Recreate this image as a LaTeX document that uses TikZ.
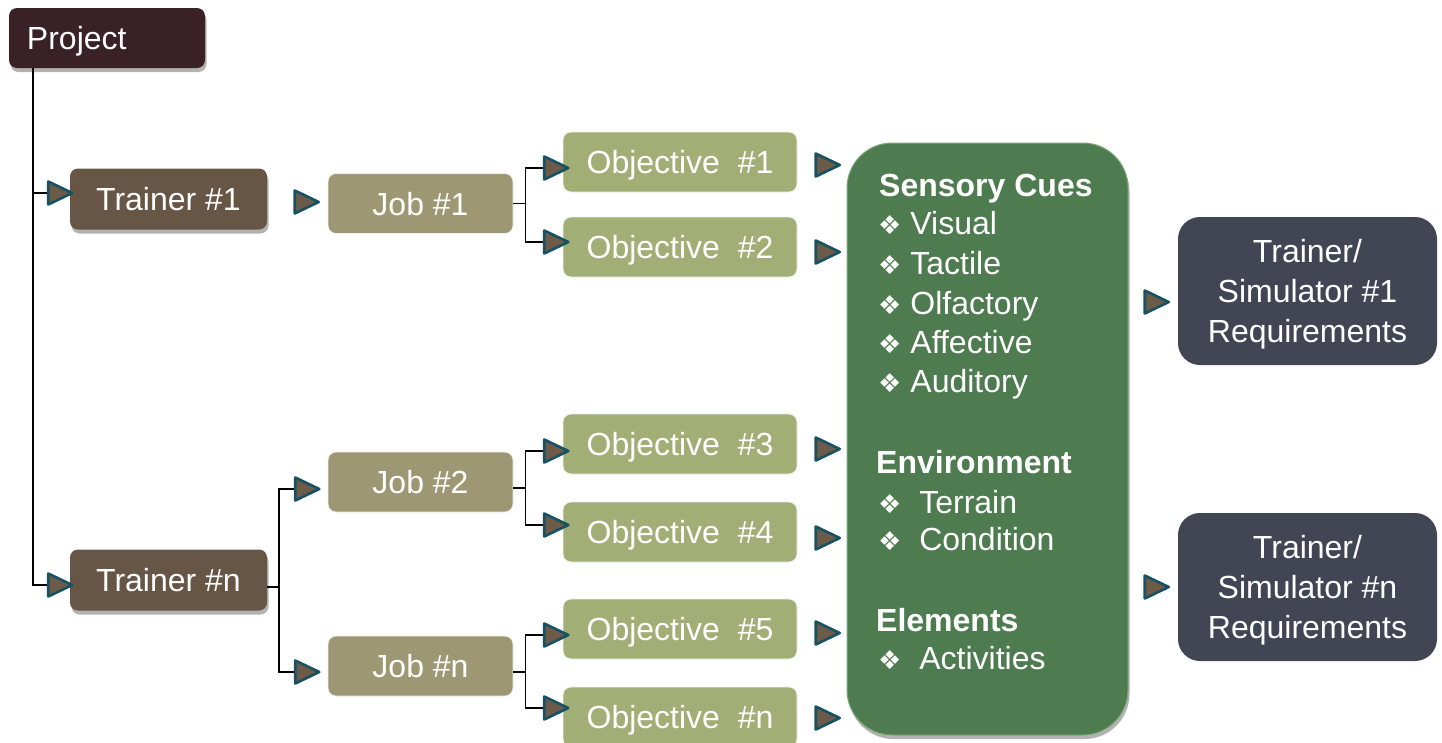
\documentclass[tikz,border=0pt]{standalone}
\usepackage{fontspec}
\setmainfont{Liberation Sans}
\newfontfamily\dejavu{DejaVu Sans}
\usetikzlibrary{shapes.geometric,shadows}
\definecolor{projc}{HTML}{3A2125}
\definecolor{trainc}{HTML}{675645}
\definecolor{jobc}{HTML}{9E9773}
\definecolor{objc}{HTML}{A1AF76}
\definecolor{greenc}{HTML}{4E7B50}
\definecolor{greenl}{HTML}{7FA97D}
\definecolor{simc}{HTML}{414554}
\definecolor{trif}{HTML}{6B5B48}
\definecolor{tric}{HTML}{165264}
\newcommand{\bul}{{\dejavu\fontsize{26}{26}\selectfont ❖}}
\begin{document}
\begin{tikzpicture}[x=1pt,y=-1pt,
  box/.style={rounded corners=8pt, inner sep=0pt, text=white,
    font=\fontsize{32}{40}\selectfont, text height=23pt, text depth=0pt},
  shad/.style={drop shadow={shadow xshift=1.5pt, shadow yshift=-4pt, opacity=0.3, fill=black}},
  projbox/.style={box, fill=projc, shad, minimum height=60pt, text width=160pt, align=left, inner xsep=18pt},
  trainbox/.style={box, fill=trainc, shad, minimum width=197pt, minimum height=61pt},
  jobbox/.style={box, fill=jobc, draw=white!85!jobc, line width=0.8pt, minimum width=185pt, minimum height=60pt},
  objbox/.style={box, fill=objc, draw=white!85!objc, line width=0.8pt, minimum width=234pt, minimum height=60pt},
  simbox/.style={rounded corners=22pt, inner sep=0pt, text=white, fill=simc,
    font=\fontsize{32}{40}\selectfont, text depth=0pt, align=center,
    minimum width=259pt, minimum height=148pt},
  tri/.style={isosceles triangle, isosceles triangle stretches, shape border rotate=0,
    inner sep=0pt, minimum width=23pt, minimum height=24pt,
    fill=trif, draw=tric, line width=2.6pt, line join=round},
  conn/.style={black, line width=1.5pt},
  cue/.style={anchor=west, inner sep=0pt, text=white,
    font=\fontsize{32}{40}\selectfont, text height=23pt, text depth=0pt},
  head/.style={cue, font=\fontsize{32}{40}\selectfont\bfseries}]

\useasboundingbox (0,0) rectangle (1442,742);
\clip (0,0) rectangle (1442,742);

% boxes
\node[projbox] (proj) at (107,38) {Project};
\node[trainbox] (tr1) at (168.5,199) {Trainer \#1};
\node[trainbox] (trn) at (168.5,580) {Trainer \#n};

\node[jobbox] (job1) at (420.5,203.5) {Job \#1};
\node[jobbox] (job2) at (420.5,482) {Job \#2};
\node[jobbox] (jobn) at (420.5,666) {Job \#n};

\node[objbox] (ob1) at (680,162) {Objective\ \ \#1};
\node[objbox] (ob2) at (680,247) {Objective\ \ \#2};
\node[objbox] (ob3) at (680,444) {Objective\ \ \#3};
\node[objbox] (ob4) at (680,532) {Objective\ \ \#4};
\node[objbox] (ob5) at (680,629) {Objective\ \ \#5};
\node[objbox] (obn) at (680,717) {Objective\ \ \#n};

\node[rounded corners=45pt, minimum width=281pt, minimum height=592pt,
  fill=greenc, draw=greenl, line width=1pt, shad] (green) at (987.5,439) {};

\node[simbox] (sim1) at (1307.5,291) {Trainer/\\Simulator \#1\\Requirements};
\node[simbox] (simn) at (1307.5,587) {Trainer/\\Simulator \#n\\Requirements};

% texts in the green box
\node[head] (h1) at (879,185) {Sensory Cues};
\node[cue] (c1) at (878,223) {\bul\ Visual};
\node[cue] (c2) at (878,263) {\bul\ Tactile};
\node[cue] (c3) at (878,303) {\bul\ Olfactory};
\node[cue] (c4) at (878,342) {\bul\ Affective};
\node[cue] (c5) at (878,381) {\bul\ Auditory};
\node[head] (h2) at (876,462) {Environment};
\node[cue] (e1) at (878,502) {\bul\ \ Terrain};
\node[cue] (e2) at (878,539) {\bul\ \ Condition};
\node[head] (h3) at (876,620) {Elements};
\node[cue] (l1) at (878,658) {\bul\ \ Activities};

% triangle markers
\node[tri] (t1tri) at (55.5,193) {};
\node[tri] (tntri) at (55.5,585) {};
\node[tri] (j1tri) at (302,202) {};
\node[tri] (j2tri) at (302.5,489) {};
\node[tri] (jntri) at (302.5,672) {};
\node[tri] (o1l) at (551.5,168) {};
\node[tri] (o2l) at (551.5,242) {};
\node[tri] (o3l) at (551.5,451) {};
\node[tri] (o4l) at (551.5,525) {};
\node[tri] (o5l) at (551.5,635) {};
\node[tri] (onl) at (551.5,708) {};
\node[tri] (o1r) at (823,165) {};
\node[tri] (o2r) at (823,252) {};
\node[tri] (o3r) at (823,449) {};
\node[tri] (o4r) at (823,538) {};
\node[tri] (o5r) at (823,633) {};
\node[tri] (onr) at (823,718) {};
\node[tri] (s1tri) at (1152,302) {};
\node[tri] (sntri) at (1152,587) {};

% connectors
\coordinate (pv) at ([xshift=24pt]proj.south west);
\draw[conn] (pv) |- (t1tri.west);
\draw[conn] (pv) |- (tntri.west);

\draw[conn] ([yshift=-7pt]trn.east) -- ++(12,0) |- (j2tri.west);
\draw[conn] ([yshift=-7pt]trn.east) -- ++(12,0) |- (jntri.west);

\draw[conn] (job1.east) -- ++(12,0) |- (o1l.west);
\draw[conn] (job1.east) -- ++(12,0) |- (o2l.west);
\draw[conn] ([yshift=-6pt]job2.east) -- ++(12,0) |- (o3l.west);
\draw[conn] ([yshift=-6pt]job2.east) -- ++(12,0) |- (o4l.west);
\draw[conn] ([yshift=-6pt]jobn.east) -- ++(12,0) |- (o5l.west);
\draw[conn] ([yshift=-6pt]jobn.east) -- ++(12,0) |- (onl.west);
\end{tikzpicture}
\end{document}
